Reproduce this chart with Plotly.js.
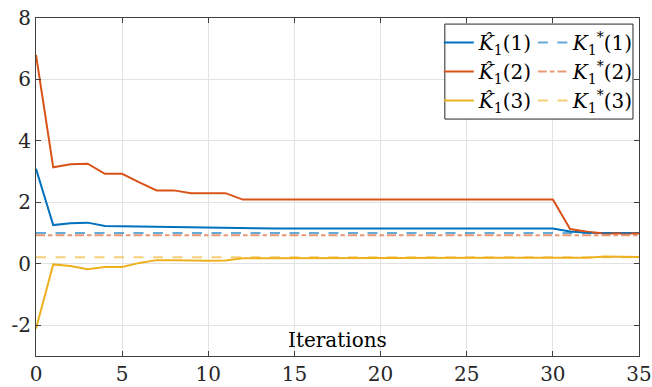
<!DOCTYPE html>
<html><head><meta charset="utf-8">
<script src="https://cdn.plot.ly/plotly-3.0.1.min.js"></script>
<style>html,body{margin:0;padding:0;background:#fff}#chart{width:652px;height:387px}</style>
</head><body><div id="chart"></div>
<script>
const iterations = [0,1,2,3,4,5,6,7,8,9,10,11,12,13,14,15,16,17,18,19,20,21,22,23,24,25,26,27,28,29,30,31,32,33,34,35];
const kHat1 = [3.09,1.26,1.32,1.34,1.23,1.22,1.21,1.20,1.19,1.19,1.19,1.18,1.15,1.15,1.15,1.15,1.15,1.15,1.15,1.15,1.15,1.15,1.15,1.15,1.15,1.15,1.15,1.15,1.15,1.15,1.15,1.05,1.01,1.00,1.00,1.00];
const kHat2 = [6.80,3.14,3.24,3.26,2.93,2.93,2.65,2.39,2.39,2.30,2.30,2.30,2.09,2.09,2.09,2.09,2.09,2.09,2.09,2.09,2.09,2.09,2.09,2.09,2.09,2.09,2.09,2.09,2.09,2.09,2.09,1.13,1.04,0.99,0.99,0.99];
const kHat3 = [-2.11,-0.02,-0.07,-0.18,-0.10,-0.10,0.03,0.12,0.12,0.10,0.10,0.11,0.18,0.18,0.18,0.18,0.18,0.18,0.18,0.18,0.18,0.18,0.18,0.18,0.18,0.18,0.18,0.18,0.18,0.19,0.19,0.19,0.20,0.24,0.24,0.22];
const starX = [0, 35];
const kStar1 = [1.00, 1.00];
const kStar2 = [0.93, 0.93];
const kStar3 = [0.21, 0.21];
const hatNames = ['<i>K̂</i><sub>1</sub>(1)','<i>K̂</i><sub>1</sub>(2)','<i>K̂</i><sub>1</sub>(3)'];
const starNames = ['<i>K</i><sub>1</sub><sup>*</sup>(1)','<i>K</i><sub>1</sub><sup>*</sup>(2)','<i>K</i><sub>1</sub><sup>*</sup>(3)'];
const xTicks = [0,5,10,15,20,25,30,35];
const yTicks = [-2,0,2,4,6,8];
const yTickText = ['-2','0','2','4','6','8'];

const cBlue = '#0072BD', cOrange = '#D95319', cYellow = '#EDB120';
const lBlue = 'rgba(0,114,189,0.6)', lOrange = 'rgba(217,83,25,0.6)', lYellow = 'rgba(237,177,32,0.6)';

const traces = [
  {x: iterations, y: kHat1, name: hatNames[0], legend: 'legend', legendgroup: 'a', line: {color: cBlue, width: 2}},
  {x: iterations, y: kHat2, name: hatNames[1], legend: 'legend', legendgroup: 'b', line: {color: cOrange, width: 2}},
  {x: iterations, y: kHat3, name: hatNames[2], legend: 'legend', legendgroup: 'c', line: {color: cYellow, width: 2}},
  {x: starX, y: kStar1, name: starNames[0], legend: 'legend2', legendgroup: 'd', line: {color: lBlue, width: 2, dash: '10px,9.5px'}},
  {x: starX, y: kStar2, name: starNames[1], legend: 'legend2', legendgroup: 'e', line: {color: lOrange, width: 2, dash: '9px,3px,4.5px,3px'}},
  {x: starX, y: kStar3, name: starNames[2], legend: 'legend2', legendgroup: 'f', line: {color: lYellow, width: 2, dash: '10px,9.5px'}}
].map(t => Object.assign({type: 'scatter', mode: 'lines', hoverinfo: 'skip'}, t));

const fam = '"DejaVu Serif", "Liberation Serif", serif';
const font = {family: fam, size: 20, color: '#262626'};
const axisCommon = {
  showgrid: true, gridcolor: '#e3e3e3', gridwidth: 1,
  showline: true, linecolor: '#404040', linewidth: 1, mirror: 'ticks',
  ticks: 'inside', ticklen: 5, tickcolor: '#404040', tickwidth: 1,
  zeroline: false, tickfont: font
};
const legendCommon = {
  bgcolor: 'rgba(0,0,0,0)', borderwidth: 0, font: {family: fam, size: 20, color: '#000'},
  xanchor: 'left', yanchor: 'top', y: 0.985, tracegroupgap: 3, traceorder: 'normal'
};
const layout = {
  width: 652, height: 387,
  margin: {l: 36, r: 13, t: 18, b: 31},
  paper_bgcolor: '#fff', plot_bgcolor: '#fff',
  showlegend: true,
  xaxis: Object.assign({}, axisCommon, {range: [0, 35], tickvals: xTicks, ticktext: xTicks.map(String)}),
  yaxis: Object.assign({}, axisCommon, {range: [-3, 8], tickvals: yTicks, ticktext: yTickText}),
  legend: Object.assign({}, legendCommon, {x: 0.668}),
  legend2: Object.assign({}, legendCommon, {x: 0.824}),
  shapes: [{type: 'rect', xref: 'paper', yref: 'paper', x0: 0.678, x1: 0.990, y0: 0.701, y1: 0.982,
            fillcolor: '#fff', line: {color: '#262626', width: 1}, layer: 'above'}],
  annotations: [{text: 'Iterations', xref: 'paper', yref: 'paper', x: 0.5, y: 0, xanchor: 'center', yanchor: 'bottom',
                 yshift: 2, showarrow: false, font: {family: fam, size: 20, color: '#000'}}]
};
Plotly.newPlot('chart', traces, layout, {displayModeBar: false, staticPlot: true});
</script></body></html>
